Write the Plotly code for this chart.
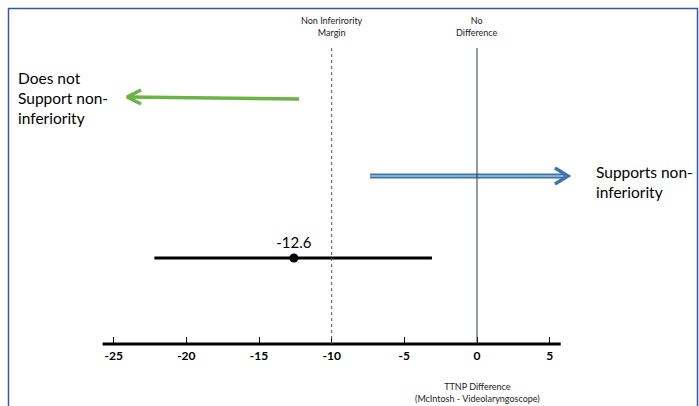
import plotly.graph_objects as go

# ---- data ----
estimate = -12.6
ci_low = -22.2
ci_high = -3.1
margin_value = -10
no_diff_value = 0
tick_vals = [-25, -20, -15, -10, -5, 0, 5]
tick_text = ["-25", "-20", "-15", "-10", "-5", "0", "5"]
axis_span = [-25.76, 5.76]
green_arrow_x = [-12.25, -24.08]   # start, tip
blue_arrow_x = [-7.36, 6.26]       # start, tip

W, H = 699, 406
PX = 14.533  # pixels per x unit
FONT = "Lato, Open Sans, sans-serif"

fig = go.Figure()

# y axis works in pixel-like units (0 top, 406 bottom)
Y_AXIS = 344
Y_CI = 258
Y_GREEN = (99, 97)
Y_BLUE = 176
Y_VTOP = 48


def chevron(tip_x, tip_y, direction, back_px=14, half_px=7):
    bx = tip_x - direction * back_px / PX
    return [bx, tip_x, bx], [tip_y - half_px, tip_y, tip_y + half_px]

# green arrow (does not support)
fig.add_trace(go.Scatter(x=green_arrow_x, y=list(Y_GREEN), mode="lines",
                         line=dict(color="#6BB344", width=3.5), hoverinfo="skip"))
cx, cy = chevron(green_arrow_x[1], Y_GREEN[1], -1)
fig.add_trace(go.Scatter(x=cx, y=cy, mode="lines",
                         line=dict(color="#6BB344", width=3.5), hoverinfo="skip"))

# blue double arrow (supports)
fig.add_trace(go.Scatter(x=[blue_arrow_x[0], blue_arrow_x[1] - 2 / PX], y=[Y_BLUE, Y_BLUE], mode="lines",
                         line=dict(color="#3F74AA", width=5), hoverinfo="skip"))
fig.add_trace(go.Scatter(x=[blue_arrow_x[0], blue_arrow_x[1] - 4 / PX], y=[Y_BLUE, Y_BLUE], mode="lines",
                         line=dict(color="#DDE7F2", width=1), hoverinfo="skip"))
cx, cy = chevron(blue_arrow_x[1], Y_BLUE, 1, back_px=13, half_px=8)
fig.add_trace(go.Scatter(x=cx, y=cy, mode="lines",
                         line=dict(color="#3F74AA", width=3.5), hoverinfo="skip"))

# CI line and point estimate
fig.add_trace(go.Scatter(x=[ci_low, ci_high], y=[Y_CI, Y_CI], mode="lines",
                         line=dict(color="black", width=3), hoverinfo="skip"))
fig.add_trace(go.Scatter(x=[estimate], y=[Y_CI], mode="markers+text",
                         marker=dict(color="black", size=9),
                         text=[f"{estimate}"], textposition="top center",
                         textfont=dict(family=FONT, size=15, color="black"),
                         hoverinfo="skip"))

shapes = [
    # axis line
    dict(type="line", xref="x", yref="y", x0=axis_span[0], x1=axis_span[1], y0=Y_AXIS, y1=Y_AXIS,
         line=dict(color="black", width=3)),
    # margin line (dotted)
    dict(type="line", xref="x", yref="y", x0=margin_value, x1=margin_value, y0=Y_VTOP, y1=Y_AXIS,
         line=dict(color="#555555", width=1, dash="dot")),
    # no difference line
    dict(type="line", xref="x", yref="y", x0=no_diff_value, x1=no_diff_value, y0=Y_VTOP, y1=Y_AXIS,
         line=dict(color="#2A3550", width=1)),
    # border
    dict(type="rect", xref="paper", yref="paper", x0=8.5 / W, x1=697.5 / W, y0=-0.05, y1=1 - 8.5 / H,
         line=dict(color="#3358A8", width=1.5)),
]

annotations = [
    dict(x=margin_value, y=26, xref="x", yref="y", text="Non Inferirority<br>Margin",
         showarrow=False, font=dict(family=FONT, size=9, color="#222")),
    dict(x=no_diff_value, y=26, xref="x", yref="y", text="No<br>Difference",
         showarrow=False, font=dict(family=FONT, size=9, color="#222")),
    dict(x=16 / W, y=98, xref="paper", yref="y", text="Does not<br>Support non-<br>inferiority",
         showarrow=False, xanchor="left", align="left", font=dict(family=FONT, size=15.5, color="black")),
    dict(x=594 / W, y=182, xref="paper", yref="y", text="Supports non-<br>inferiority",
         showarrow=False, xanchor="left", align="left", font=dict(family=FONT, size=15.5, color="black")),
    dict(x=no_diff_value, y=392, xref="x", yref="y", text="TTNP Difference<br>(McIntosh - Videolaryngoscope)",
         showarrow=False, font=dict(family=FONT, size=9, color="#222")),
]

fig.update_layout(
    width=W, height=H,
    margin=dict(l=0, r=0, t=0, b=0),
    paper_bgcolor="white", plot_bgcolor="white",
    showlegend=False,
    shapes=shapes, annotations=annotations,
    xaxis=dict(range=[-477 / PX, (W - 477) / PX], domain=[0, 1], anchor="free",
               position=(H - Y_AXIS) / H, showline=False, showgrid=False, zeroline=False,
               ticks="inside", ticklen=7, tickwidth=1, tickcolor="black",
               tickvals=tick_vals, ticktext=tick_text, ticklabelstandoff=3,
               tickfont=dict(family=FONT, size=12, color="black", weight="bold")),
    yaxis=dict(range=[H, 0], domain=[0, 1], visible=False),
)

fig.write_html("out.html", config={"displayModeBar": False},
               post_script="document.body.style.margin='0';")
